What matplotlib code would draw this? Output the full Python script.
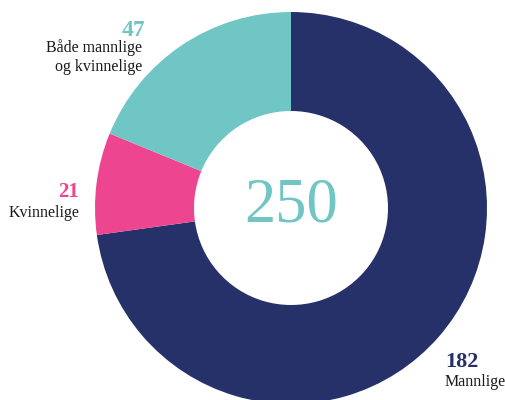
import matplotlib.pyplot as plt

# data
labels = ["Mannlige", "Kvinnelige", "Både mannlige\nog kvinnelige"]
values = [182, 21, 47]
colors = ["#263169", "#EE4590", "#6FC6C4"]
total = sum(values)

fig = plt.figure(figsize=(5.05, 4.0), dpi=100)
ax = fig.add_axes([0, 0, 1, 1])

# pixel-like coordinates, y up
cx, cy = 291, 400 - 208
R = 196
ax.pie(values, colors=colors, startangle=90, counterclock=False,
       center=(cx, cy), radius=R, frame=True,
       wedgeprops=dict(width=99, linewidth=0))
ax.set_xlim(0, 505)
ax.set_ylim(0, 400)
ax.set_aspect("equal")
ax.axis("off")

serif = "Liberation Serif"
ax.text(cx, cy + 2, str(total), ha="center", va="center", fontsize=45,
        color=colors[2], family=serif)

# labels
ax.text(145, 400 - 30, str(values[2]), ha="right", va="center", fontsize=17,
        fontweight="bold", color=colors[2], family=serif)
ax.text(142, 400 - 57, labels[2], ha="right", va="center", fontsize=11.5,
        color="#1a1a1a", family=serif, linespacing=1.3)

ax.text(79, 400 - 192, str(values[1]), ha="right", va="center", fontsize=15,
        fontweight="bold", color=colors[1], family=serif)
ax.text(79, 400 - 213, labels[1], ha="right", va="center", fontsize=11.5,
        color="#1a1a1a", family=serif)

ax.text(445, 400 - 362, str(values[0]), ha="left", va="center", fontsize=16,
        fontweight="bold", color=colors[0], family=serif)
ax.text(445, 400 - 382, labels[0], ha="left", va="center", fontsize=11.5,
        color="#1a1a1a", family=serif)

fig.savefig("out.png", dpi=100)
